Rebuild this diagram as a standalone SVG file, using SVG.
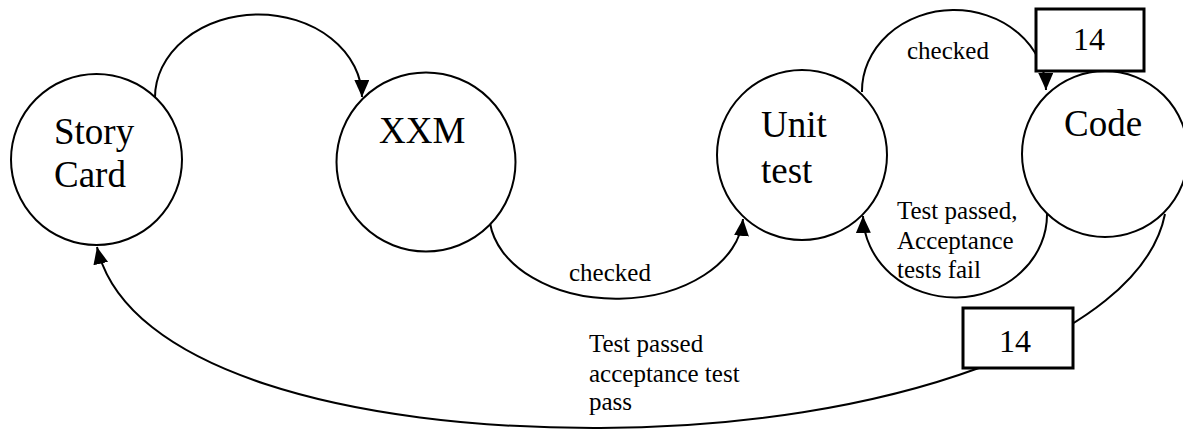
<svg xmlns="http://www.w3.org/2000/svg" width="1183" height="430" viewBox="0 0 1183 430">
<style>
.node{fill:#fff;stroke:#000;stroke-width:2}
.box{fill:#fff;stroke:#000;stroke-width:3}
.edge{fill:none;stroke:#000;stroke-width:2;marker-end:url(#arr)}
text{font-family:'Liberation Serif','DejaVu Serif',serif;fill:#000}
.nt{font-size:37px}
.lt{font-size:25px}
.bt{font-size:32px;text-anchor:middle}
</style>
<defs>
<marker id="arr" markerUnits="userSpaceOnUse" markerWidth="18" markerHeight="16" refX="17" refY="7.5" orient="auto">
<path d="M0,0 L17,7.5 L0,15 z" fill="#000"/>
</marker>
</defs>
<rect width="1183" height="430" fill="#fff"/>
<g id="connectors">
<path class="edge" d="M155,98 A103.5,83 0 0 1 362,97"/>
<path class="edge" d="M490,223 A127,85 0 0 0 743,219"/>
<path class="edge" d="M862,92 A92,81 0 0 1 1046,90"/>
<path class="edge" d="M1047,213 A92,83 0 0 1 863,216"/>
<path class="edge" d="M1165,214 C1140,340 880,428 600,428 C350,429 125,370 97,247"/>
<text class="lt" x="569" y="281">checked</text>
<text class="lt" x="907" y="59">checked</text>
<text class="lt" x="897" y="219">Test passed,</text>
<text class="lt" x="897" y="249">Acceptance</text>
<text class="lt" x="897" y="278">tests fail</text>
<text class="lt" x="589" y="352">Test passed</text>
<text class="lt" x="589" y="382">acceptance test</text>
<text class="lt" x="589" y="410">pass</text>
</g>
<g id="story-card">
<circle class="node" cx="96.5" cy="159.5" r="85.5"/>
<text class="nt" x="54" y="144">Story</text>
<text class="nt" x="54" y="187">Card</text>
</g>
<g id="xxm">
<circle class="node" cx="426" cy="162" r="89.5"/>
<text class="nt" x="379" y="143">XXM</text>
</g>
<g id="unit-test">
<circle class="node" cx="802" cy="155" r="85"/>
<text class="nt" x="761" y="137">Unit</text>
<text class="nt" x="761" y="183">test</text>
</g>
<g id="code">
<circle class="node" cx="1105" cy="154" r="83"/>
<text class="nt" x="1064" y="136">Code</text>
</g>
<g id="box-14-top">
<rect class="box" x="1036" y="9" width="108" height="62"/>
<text class="bt" x="1089" y="50">14</text>
</g>
<g id="box-14-bottom">
<rect class="box" x="963" y="308" width="110" height="60"/>
<text class="bt" x="1015" y="352">14</text>
</g>
</svg>
